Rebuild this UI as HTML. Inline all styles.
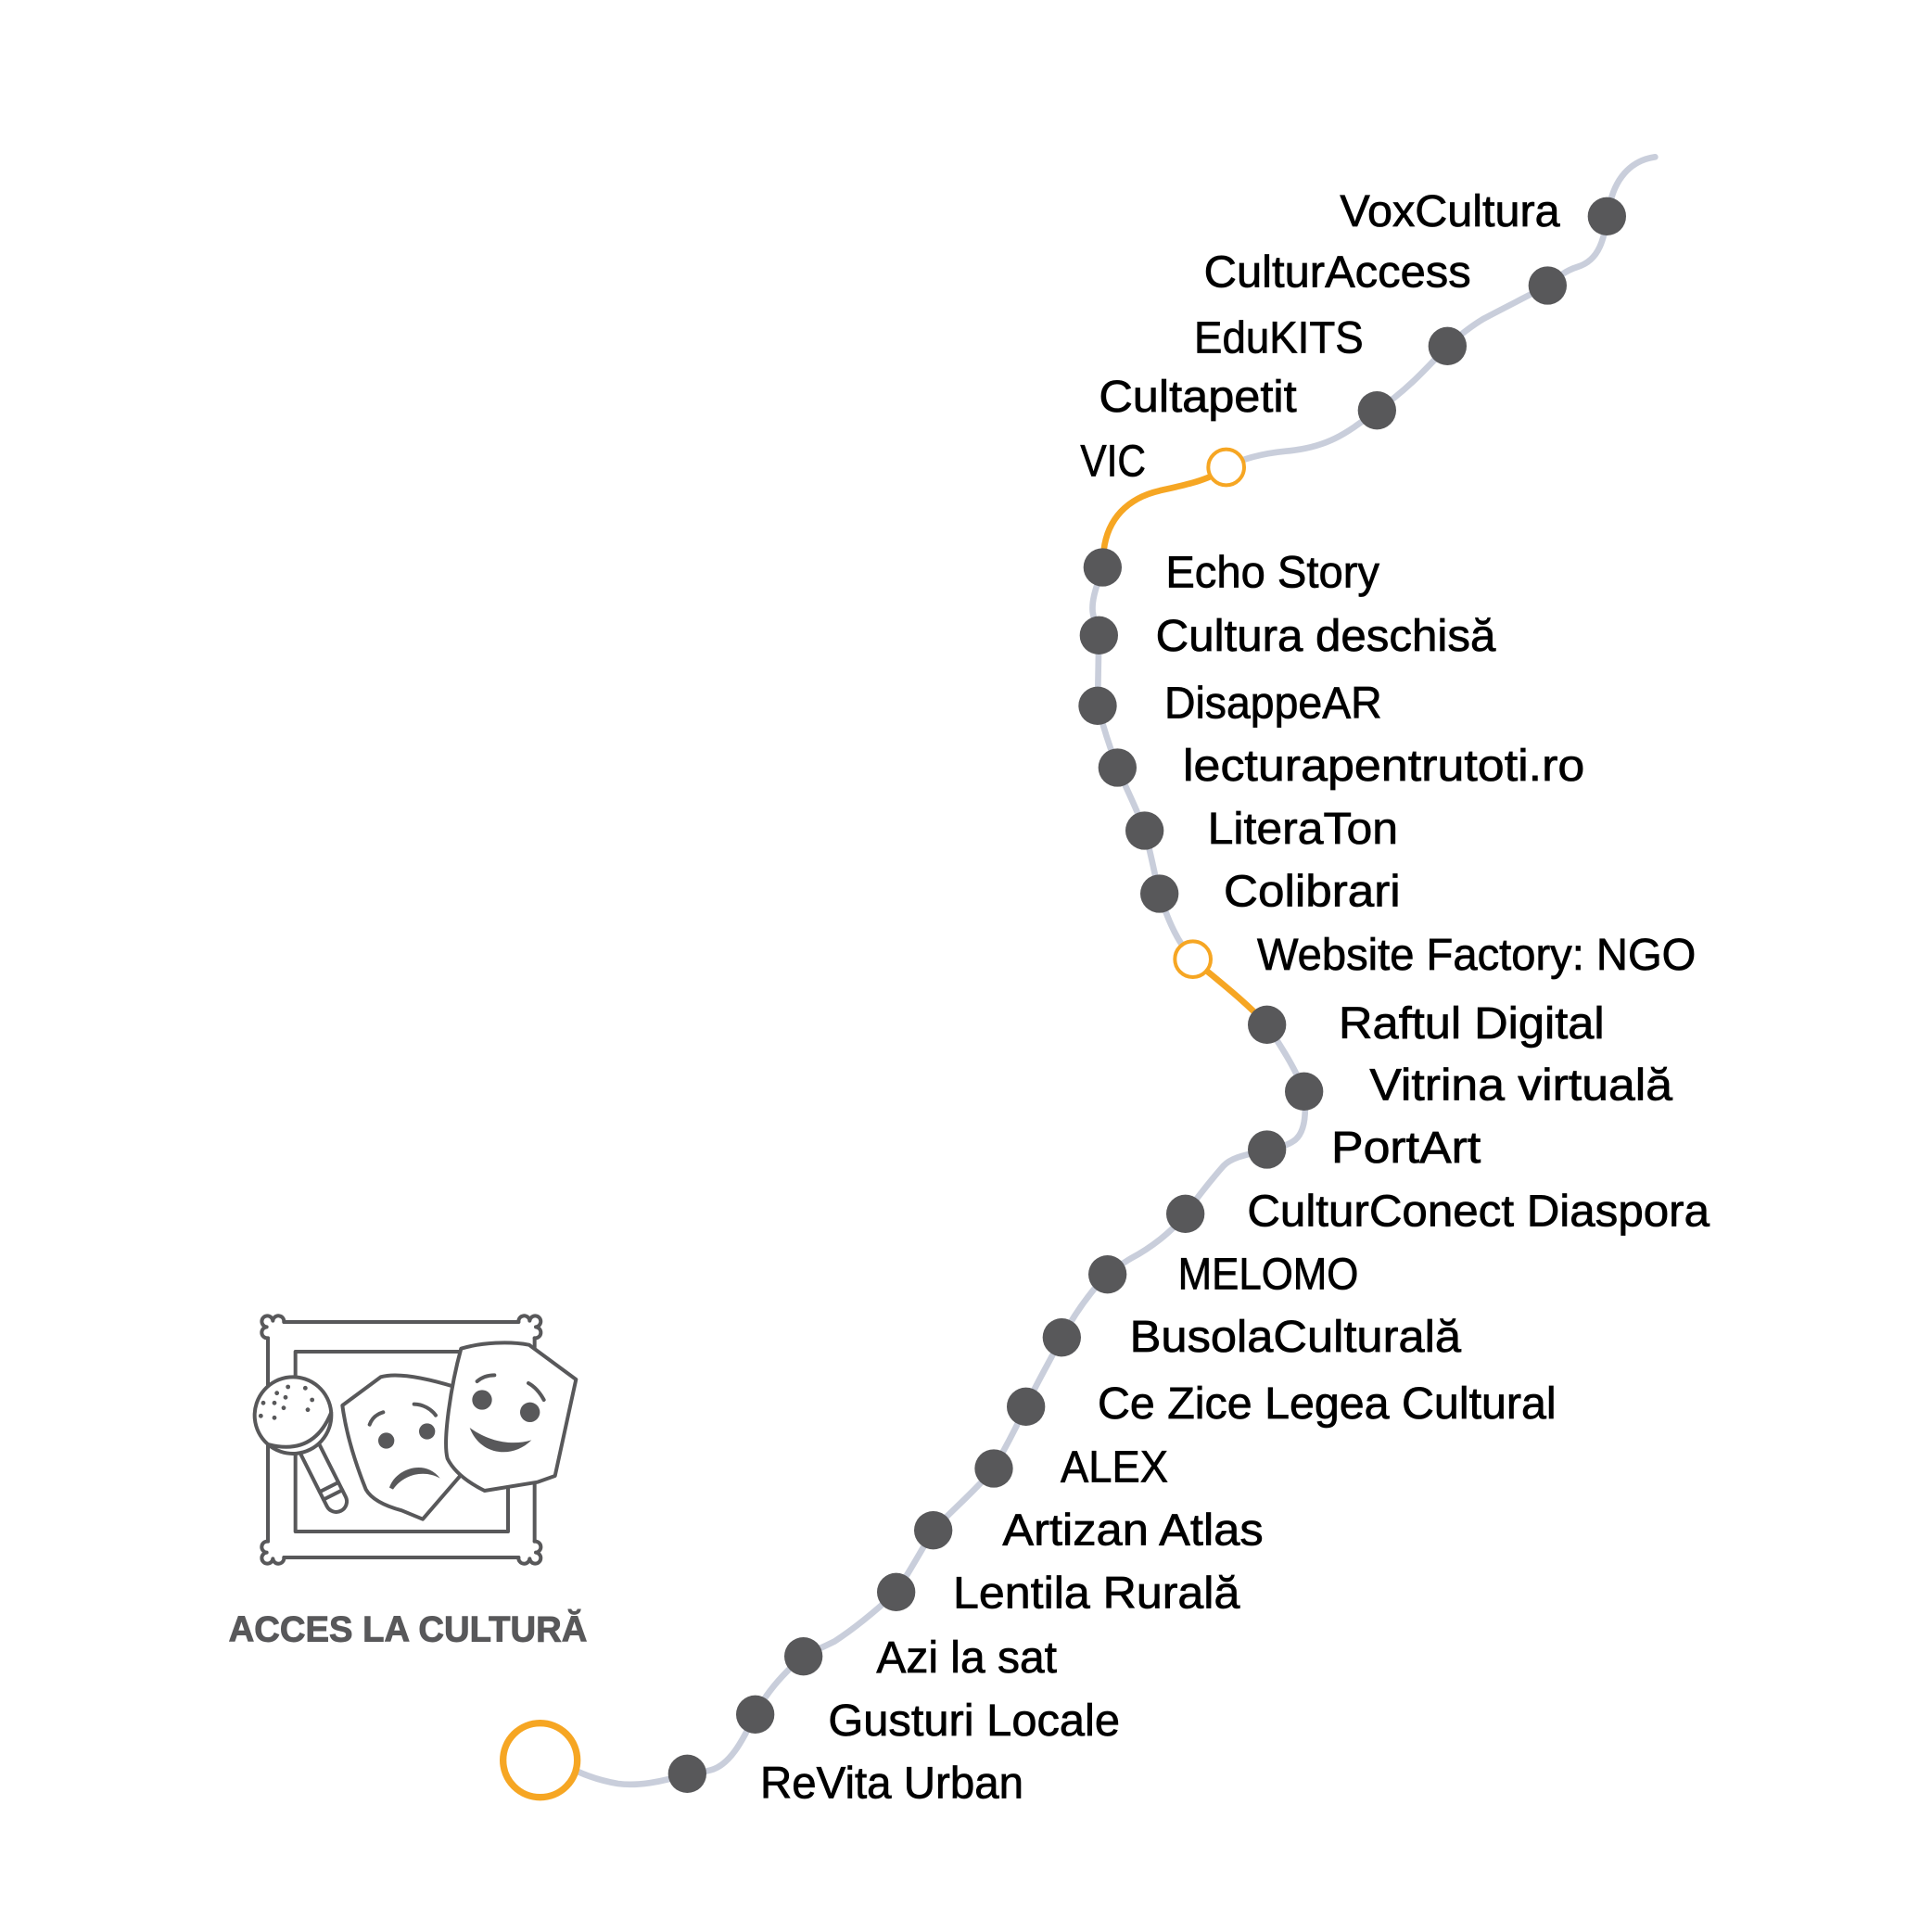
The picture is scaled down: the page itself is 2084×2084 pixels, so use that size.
<!DOCTYPE html>
<html>
<head>
<meta charset="utf-8">
<style>
  html, body { margin: 0; padding: 0; background: #ffffff; }
  svg { display: block; }
  .lbl { font-family: "Liberation Sans Narrow", "Liberation Sans", Arial, sans-serif; font-size: 36px; fill: #000000; stroke: #000000; stroke-width: 0.55px; }
</style>
</head>
<body>
<svg width="2084" height="2084" viewBox="0 0 1563 1563" xmlns="http://www.w3.org/2000/svg">
  <rect x="0" y="0" width="1563" height="1563" fill="#ffffff"/>

  <!-- gray line segments -->
  <g fill="none" stroke="#c9cedb" stroke-width="5" stroke-linecap="round" stroke-linejoin="round">
    <path d="M1339,127 C1318,130 1306,146 1302,167 C1298,190 1296,210 1276,216 C1266,219 1258,226 1252,231 C1235,240 1215,250 1200,258 C1190,264 1180,272 1171,280 C1155,297 1138,316 1114,332 C1090,350 1075,362 1040,365 C1020,367 1005,371 992,378"/>
    <path d="M892,459 C887,475 883,485 884,495 C885,503 888,508 889,514 L888,571 C893,590 898,605 904,621 C912,640 920,655 926,672 C931,690 934,707 938,723 C944,742 950,755 956,764 L965,776"/>
    <path d="M1025,829 C1035,845 1047,862 1055,883 C1057,900 1056,915 1048,922 C1042,927 1032,929 1025,930 C1012,934 998,935 990,943 C982,952 970,967 959,982 C948,997 930,1010 915,1018 C907,1023 900,1027 896,1031 C882,1045 870,1062 859,1082 C850,1100 838,1120 830,1138 C822,1155 813,1172 804,1188 C790,1205 770,1222 755,1238 C745,1255 735,1273 725,1288 C712,1300 695,1315 675,1328 C665,1333 657,1336 650,1340 C638,1350 627,1362 620,1372 C616,1378 613,1383 611,1387 C600,1410 590,1428 575,1432 C568,1434 562,1434 556,1435 C535,1442 515,1445 500,1443 C488,1441 478,1438 467,1433"/>
  </g>

  <!-- orange segments -->
  <g fill="none" stroke="#f6a623" stroke-width="5" stroke-linecap="round" stroke-linejoin="round">
    <path d="M992,378 C980,388 960,392 938,397 C912,403 896,420 893,445 L892,459"/>
    <path d="M965,776 C985,793 1005,808 1025,829"/>
  </g>

  <!-- station dots -->
  <g fill="#58585a">
    <circle cx="1300" cy="175" r="15.5"/>
    <circle cx="1252" cy="231" r="15.5"/>
    <circle cx="1171" cy="280" r="15.5"/>
    <circle cx="1114" cy="332" r="15.5"/>
    <circle cx="892" cy="459" r="15.5"/>
    <circle cx="889" cy="514" r="15.5"/>
    <circle cx="888" cy="571" r="15.5"/>
    <circle cx="904" cy="621" r="15.5"/>
    <circle cx="926" cy="672" r="15.5"/>
    <circle cx="938" cy="723" r="15.5"/>
    <circle cx="1025" cy="829" r="15.5"/>
    <circle cx="1055" cy="883" r="15.5"/>
    <circle cx="1025" cy="930" r="15.5"/>
    <circle cx="959" cy="982" r="15.5"/>
    <circle cx="896" cy="1031" r="15.5"/>
    <circle cx="859" cy="1082" r="15.5"/>
    <circle cx="830" cy="1138" r="15.5"/>
    <circle cx="804" cy="1188" r="15.5"/>
    <circle cx="755" cy="1238" r="15.5"/>
    <circle cx="725" cy="1288" r="15.5"/>
    <circle cx="650" cy="1340" r="15.5"/>
    <circle cx="611" cy="1387" r="15.5"/>
    <circle cx="556" cy="1435" r="15.5"/>
  </g>

  <!-- hollow orange stations -->
  <g fill="#ffffff" stroke="#f6a623">
    <circle cx="992" cy="378" r="14.5" stroke-width="3"/>
    <circle cx="965" cy="776" r="14.5" stroke-width="3"/>
    <circle cx="437" cy="1424" r="30" stroke-width="5.5"/>
  </g>

  <!-- labels -->
  <g class="lbl">
    <text x="1084" y="183" textLength="178" lengthAdjust="spacingAndGlyphs">VoxCultura</text>
    <text x="974" y="232" textLength="216" lengthAdjust="spacingAndGlyphs">CulturAccess</text>
    <text x="966" y="285.5" textLength="137" lengthAdjust="spacingAndGlyphs">EduKITS</text>
    <text x="889" y="333" textLength="160" lengthAdjust="spacingAndGlyphs">Cultapetit</text>
    <text x="874" y="385" textLength="53" lengthAdjust="spacingAndGlyphs">VIC</text>
    <text x="943" y="475" textLength="173" lengthAdjust="spacingAndGlyphs">Echo Story</text>
    <text x="935" y="526.5" textLength="275" lengthAdjust="spacingAndGlyphs">Cultura deschisă</text>
    <text x="942" y="581" textLength="176" lengthAdjust="spacingAndGlyphs">DisappeAR</text>
    <text x="957" y="631.5" textLength="325" lengthAdjust="spacingAndGlyphs">lecturapentrutoti.ro</text>
    <text x="977" y="682.5" textLength="154" lengthAdjust="spacingAndGlyphs">LiteraTon</text>
    <text x="990" y="733" textLength="143" lengthAdjust="spacingAndGlyphs">Colibrari</text>
    <text x="1017" y="784.5" textLength="355" lengthAdjust="spacingAndGlyphs">Website Factory: NGO</text>
    <text x="1083" y="840" textLength="215" lengthAdjust="spacingAndGlyphs">Raftul Digital</text>
    <text x="1108" y="890" textLength="245" lengthAdjust="spacingAndGlyphs">Vitrina virtuală</text>
    <text x="1077" y="940.5" textLength="121" lengthAdjust="spacingAndGlyphs">PortArt</text>
    <text x="1009" y="992" textLength="374" lengthAdjust="spacingAndGlyphs">CulturConect Diaspora</text>
    <text x="953" y="1043" textLength="146" lengthAdjust="spacingAndGlyphs">MELOMO</text>
    <text x="914" y="1093.5" textLength="268" lengthAdjust="spacingAndGlyphs">BusolaCulturală</text>
    <text x="888" y="1147.5" textLength="371" lengthAdjust="spacingAndGlyphs">Ce Zice Legea Cultural</text>
    <text x="858" y="1199" textLength="87" lengthAdjust="spacingAndGlyphs">ALEX</text>
    <text x="811" y="1250" textLength="211" lengthAdjust="spacingAndGlyphs">Artizan Atlas</text>
    <text x="771" y="1301" textLength="232" lengthAdjust="spacingAndGlyphs">Lentila Rurală</text>
    <text x="709" y="1353" textLength="146" lengthAdjust="spacingAndGlyphs">Azi la sat</text>
    <text x="670" y="1404" textLength="236" lengthAdjust="spacingAndGlyphs">Gusturi Locale</text>
    <text x="615" y="1454.5" textLength="213" lengthAdjust="spacingAndGlyphs">ReVita Urban</text>
  </g>

  <!-- icon -->
  <g fill="none" stroke="#58585a" stroke-width="3" stroke-linecap="round" stroke-linejoin="round">
    <!-- outer frame lines -->
    <line x1="229.75" y1="1069.5" x2="419.5" y2="1069.5"/>
    <line x1="229.75" y1="1260" x2="419.5" y2="1260"/>
    <line x1="216.75" y1="1082.5" x2="216.75" y2="1247"/>
    <line x1="432.5" y1="1082.5" x2="432.5" y2="1247"/>
    <!-- corner ornaments -->
    <path transform="translate(216.75,1069.5)" d="M13,0 A4.5,4.5 0 1 0 4,-1 A4.5,4.5 0 1 0 -1,4 A4.5,4.5 0 1 0 0,13"/>
    <path transform="translate(432.5,1069.5) scale(-1,1)" d="M13,0 A4.5,4.5 0 1 0 4,-1 A4.5,4.5 0 1 0 -1,4 A4.5,4.5 0 1 0 0,13"/>
    <path transform="translate(216.75,1260) scale(1,-1)" d="M13,0 A4.5,4.5 0 1 0 4,-1 A4.5,4.5 0 1 0 -1,4 A4.5,4.5 0 1 0 0,13"/>
    <path transform="translate(432.5,1260) scale(-1,-1)" d="M13,0 A4.5,4.5 0 1 0 4,-1 A4.5,4.5 0 1 0 -1,4 A4.5,4.5 0 1 0 0,13"/>
    <!-- inner rect -->
    <rect x="239" y="1093.5" width="172" height="145.5"/>

    <!-- microphone -->
    <g transform="translate(237,1145) rotate(63.3)">
      <path d="M26,-8.5 L78,-8.5 A8.5,8.5 0 0 1 78,8.5 L26,8.5 Z" fill="#ffffff"/>
      <line x1="65" y1="-8.5" x2="65" y2="8.5"/>
      <line x1="72" y1="-8.5" x2="72" y2="8.5"/>
      <circle cx="0" cy="0" r="31" fill="#ffffff"/>
      <path d="M12,-28.5 Q37,0 12,28.5"/>
    </g>
    <!-- sad mask -->
    <path d="M277,1137 L308,1114 C322,1110 345,1115 368,1122 L374,1192 L342,1229 L325,1222 C310,1218 300,1212 296,1205 C288,1185 280,1160 277,1137 Z" fill="#ffffff"/>
    <path d="M299,1152.5 C301,1147 305,1144 310,1142.5"/>
    <path d="M335,1136 C342,1136 349,1140 352.5,1145"/>
    <!-- happy mask -->
    <path d="M373,1091 C390,1086 412,1085 428,1088 L466,1116 L449,1194 L435,1199 L392,1206 C380,1200 368,1192 362,1180 C358,1165 365,1120 373,1091 Z" fill="#ffffff"/>
    <path d="M386,1117.5 C390,1114 395,1112.5 400,1112.5"/>
    <path d="M427.5,1119 C433,1122 437,1127 440,1132.5"/>
  </g>
  <g fill="#58585a">
    <!-- mic dots -->
    <circle cx="233" cy="1122" r="1.8"/>
    <circle cx="247" cy="1123" r="1.8"/>
    <circle cx="224" cy="1127" r="1.8"/>
    <circle cx="231" cy="1130.5" r="1.8"/>
    <circle cx="213" cy="1135" r="1.8"/>
    <circle cx="222" cy="1135" r="1.8"/>
    <circle cx="252.5" cy="1132.5" r="1.8"/>
    <circle cx="229.5" cy="1139" r="1.8"/>
    <circle cx="249" cy="1140.5" r="1.8"/>
    <circle cx="211" cy="1145.5" r="1.8"/>
    <circle cx="222" cy="1147" r="1.8"/>
    <!-- sad face -->
    <circle cx="312.5" cy="1165.5" r="6.5"/>
    <circle cx="345.5" cy="1158" r="6.5"/>
    <path d="M315,1203.5 C320,1188 344,1180 356,1196 C344,1189 327,1192 318,1205 Z"/>
    <!-- happy face -->
    <circle cx="390" cy="1132.5" r="8"/>
    <circle cx="428.75" cy="1142.5" r="8"/>
    <path d="M380,1155 C388,1177 414,1181 430,1165 C414,1170 395,1166 380,1155 Z"/>
  </g>

  <text x="185" y="1328" textLength="290" lengthAdjust="spacingAndGlyphs" font-family="'Liberation Sans', Arial, sans-serif" font-weight="bold" font-size="29.5" fill="#58585a" stroke="#58585a" stroke-width="0.7">ACCES LA CULTURĂ</text>
</svg>
</body>
</html>
